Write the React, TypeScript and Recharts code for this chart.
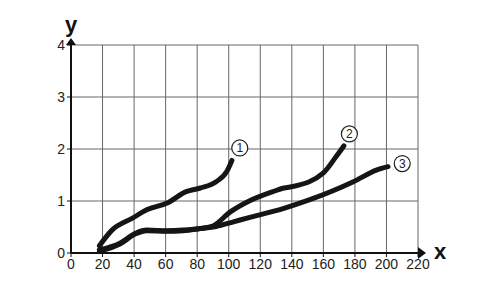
import React from 'react';
import { LineChart, Line, XAxis, YAxis, CartesianGrid, ReferenceDot } from 'recharts';

const xTicks = [0, 20, 40, 60, 80, 100, 120, 140, 160, 180, 200, 220];
const yTicks = [0, 1, 2, 3, 4];

const curve1 = [
  { x: 18, y: 0.14 }, { x: 26, y: 0.44 }, { x: 39, y: 0.67 }, { x: 48, y: 0.83 },
  { x: 61, y: 0.96 }, { x: 73, y: 1.18 }, { x: 82, y: 1.25 }, { x: 92, y: 1.37 },
  { x: 99, y: 1.58 }, { x: 102, y: 1.78 },
];

const curve2 = [
  { x: 18, y: 0.06 }, { x: 31, y: 0.19 }, { x: 41, y: 0.38 }, { x: 48, y: 0.44 },
  { x: 61, y: 0.43 }, { x: 71, y: 0.44 }, { x: 82, y: 0.47 }, { x: 90, y: 0.52 },
  { x: 101, y: 0.79 }, { x: 113, y: 1.0 }, { x: 128, y: 1.18 }, { x: 135, y: 1.25 },
  { x: 141, y: 1.28 }, { x: 160, y: 1.54 }, { x: 168, y: 1.85 }, { x: 173, y: 2.06 },
];

const curve3 = [
  { x: 18, y: 0.03 }, { x: 31, y: 0.17 }, { x: 41, y: 0.37 }, { x: 48, y: 0.43 },
  { x: 61, y: 0.42 }, { x: 71, y: 0.43 }, { x: 82, y: 0.47 }, { x: 92, y: 0.51 },
  { x: 103, y: 0.6 }, { x: 114, y: 0.69 }, { x: 135, y: 0.86 }, { x: 151, y: 1.02 },
  { x: 179, y: 1.37 }, { x: 194, y: 1.6 }, { x: 201, y: 1.66 },
];

// where the circled numbers sit, in data units
const curveLabels = [
  { x: 107, y: 2.02, text: '1' },
  { x: 176.5, y: 2.29, text: '2' },
  { x: 210, y: 1.72, text: '3' },
];

const font = 'Liberation Sans, Arial, sans-serif';

const CircleLabel = (props: any) => {
  const { cx, cy, text } = props;
  return (
    <g>
      <circle cx={cx} cy={cy} r={8} fill="#fff" stroke="#222" strokeWidth={1.2} />
      <text x={cx} y={cy + 4} textAnchor="middle" fontSize={12} fontFamily={font} fill="#222">
        {text}
      </text>
    </g>
  );
};

const XArrow = (props: any) => {
  const { cx, cy } = props;
  return (
    <g>
      <path d={`M${cx},${cy - 6} L${cx + 8},${cy} L${cx},${cy + 6} Z`} fill="#111" />
      <text x={cx + 22} y={cy + 6} textAnchor="middle" fontSize={22} fontWeight="bold" fontFamily={font} fill="#111">
        x
      </text>
    </g>
  );
};

const YArrow = (props: any) => {
  const { cx, cy } = props;
  return (
    <g>
      <path d={`M${cx - 5},${cy} L${cx},${cy - 7} L${cx + 5},${cy} Z`} fill="#111" />
      <text x={cx} y={cy - 13} textAnchor="middle" fontSize={22} fontWeight="bold" fontFamily={font} fill="#111">
        y
      </text>
    </g>
  );
};

const lineStyle = { stroke: '#151515', strokeWidth: 5, strokeLinecap: 'round' as const };

export default function App() {
  return (
    <div style={{ position: 'absolute', left: 0, top: 0, background: '#fff' }}>
      <LineChart width={500} height={295} margin={{ top: 45, right: 82, bottom: 12, left: 36 }}>
        <CartesianGrid stroke="#666" strokeWidth={1} />
        <XAxis
          type="number"
          dataKey="x"
          domain={[0, 220]}
          ticks={xTicks}
          height={30}
          axisLine={{ stroke: '#111', strokeWidth: 2 }}
          tickLine={{ stroke: '#111' }}
          tickSize={4}
          tick={{ fontSize: 14, fill: '#222', fontFamily: font }}
          interval={0}
        />
        <YAxis
          type="number"
          dataKey="y"
          domain={[0, 4]}
          ticks={yTicks}
          width={35}
          axisLine={{ stroke: '#111', strokeWidth: 2 }}
          tickLine={{ stroke: '#111' }}
          tickSize={4}
          tick={{ fontSize: 14, fill: '#222', fontFamily: font }}
          interval={0}
        />
        <Line data={curve1} dataKey="y" type="monotone" dot={false} {...lineStyle} isAnimationActive={false} />
        <Line data={curve2} dataKey="y" type="monotone" dot={false} {...lineStyle} isAnimationActive={false} />
        <Line data={curve3} dataKey="y" type="monotone" dot={false} {...lineStyle} isAnimationActive={false} />
        {curveLabels.map((l) => (
          <ReferenceDot key={l.text} x={l.x} y={l.y} r={8} shape={(p: any) => <CircleLabel {...p} text={l.text} />} />
        ))}
        <ReferenceDot x={220} y={0} shape={(p: any) => <XArrow {...p} />} />
        <ReferenceDot x={0} y={4} shape={(p: any) => <YArrow {...p} />} />
      </LineChart>
    </div>
  );
}
